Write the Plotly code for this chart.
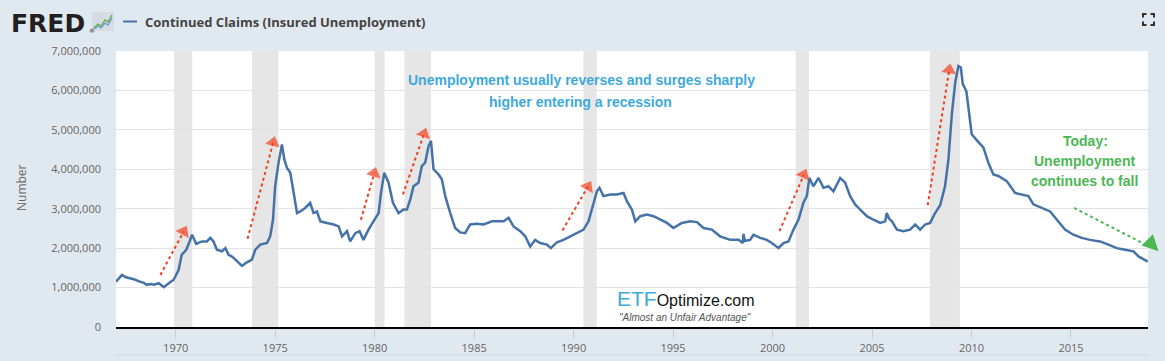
import plotly.graph_objects as go
import pandas as pd
import numpy as np

# ---------------- data ----------------
years = [
    1967.00, 1967.15, 1967.30, 1967.50, 1967.70, 1967.90, 1968.20, 1968.40, 1968.55, 1968.75,
    1968.90, 1969.15, 1969.40, 1969.55, 1969.65, 1969.90, 1970.15, 1970.30, 1970.53, 1970.70,
    1970.82, 1971.03, 1971.32, 1971.57, 1971.74, 1971.90, 1972.07, 1972.33, 1972.50, 1972.66,
    1972.85, 1973.00, 1973.33, 1973.58, 1973.83, 1974.00, 1974.25, 1974.59, 1974.75, 1974.89,
    1975.00, 1975.17, 1975.30, 1975.34, 1975.46, 1975.59, 1975.76, 1975.90, 1976.10, 1976.26,
    1976.51, 1976.76, 1976.93, 1977.10, 1977.27, 1977.60, 1977.94, 1978.19, 1978.36, 1978.61,
    1978.77, 1979.03, 1979.24, 1979.44, 1979.69, 1979.94, 1980.20, 1980.32, 1980.48, 1980.70,
    1980.92, 1981.20, 1981.45, 1981.62, 1981.80, 1981.95, 1982.20, 1982.37, 1982.54, 1982.71,
    1982.83, 1982.96, 1983.21, 1983.38, 1983.55, 1983.80, 1984.05, 1984.30, 1984.55, 1984.80,
    1985.14, 1985.47, 1985.90, 1986.22, 1986.48, 1986.73, 1986.98, 1987.32, 1987.57, 1987.82,
    1988.07, 1988.32, 1988.66, 1988.86, 1989.16, 1989.49, 1989.83, 1990.17, 1990.50, 1990.75,
    1990.97, 1991.17, 1991.30, 1991.50, 1991.84, 1992.17, 1992.51, 1992.68, 1992.93, 1993.10,
    1993.35, 1993.68, 1994.02, 1994.35, 1994.69, 1995.02, 1995.44, 1995.86, 1996.20, 1996.53,
    1996.95, 1997.36, 1997.87, 1998.29, 1998.50, 1998.54, 1998.60, 1998.87, 1999.04, 1999.38,
    1999.71, 1999.96, 2000.30, 2000.55, 2000.80, 2001.05, 2001.30, 2001.55, 2001.72, 2001.85,
    2002.05, 2002.31, 2002.56, 2002.81, 2003.06, 2003.40, 2003.65, 2003.90, 2004.15, 2004.40,
    2004.74, 2005.07, 2005.41, 2005.66, 2005.74, 2005.85, 2006.00, 2006.25, 2006.58, 2006.91,
    2007.17, 2007.42, 2007.67, 2007.92, 2008.17, 2008.42, 2008.67, 2008.84, 2009.01, 2009.18,
    2009.34, 2009.46, 2009.56, 2009.74, 2009.88, 2010.01, 2010.26, 2010.60, 2010.85, 2011.10,
    2011.35, 2011.52, 2011.77, 2012.19, 2012.53, 2012.86, 2013.11, 2013.53, 2013.95, 2014.29,
    2014.70, 2015.12, 2015.54, 2015.96, 2016.46, 2016.88, 2017.30, 2017.72, 2018.14, 2018.39,
    2018.64, 2018.86,
]
claims_mil = [
    1.15, 1.25, 1.32, 1.26, 1.24, 1.21, 1.15, 1.12, 1.07, 1.09,
    1.07, 1.11, 1.01, 1.06, 1.11, 1.20, 1.45, 1.83, 1.96, 2.17,
    2.34, 2.11, 2.17, 2.17, 2.26, 2.17, 1.96, 1.92, 2.00, 1.83,
    1.78, 1.71, 1.55, 1.64, 1.71, 1.96, 2.09, 2.13, 2.30, 2.72,
    3.57, 4.17, 4.50, 4.63, 4.25, 4.04, 3.91, 3.49, 2.89, 2.93,
    3.02, 3.15, 2.89, 2.93, 2.68, 2.64, 2.60, 2.55, 2.30, 2.43,
    2.17, 2.38, 2.43, 2.21, 2.47, 2.68, 2.89, 3.40, 3.91, 3.66,
    3.15, 2.89, 2.98, 2.98, 3.25, 3.57, 3.66, 4.08, 4.17, 4.59,
    4.72, 4.00, 3.87, 3.74, 3.32, 2.89, 2.51, 2.40, 2.38, 2.60,
    2.62, 2.60, 2.68, 2.68, 2.68, 2.77, 2.55, 2.43, 2.30, 2.04,
    2.21, 2.13, 2.09, 2.00, 2.15, 2.21, 2.30, 2.38, 2.47, 2.68,
    3.06, 3.44, 3.53, 3.32, 3.36, 3.36, 3.40, 3.19, 2.98, 2.68,
    2.81, 2.85, 2.81, 2.72, 2.64, 2.51, 2.64, 2.68, 2.66, 2.51,
    2.47, 2.30, 2.21, 2.21, 2.13, 2.36, 2.18, 2.21, 2.34, 2.26,
    2.21, 2.13, 2.00, 2.13, 2.17, 2.47, 2.72, 3.15, 3.32, 3.78,
    3.57, 3.78, 3.53, 3.57, 3.44, 3.78, 3.66, 3.32, 3.11, 2.98,
    2.81, 2.72, 2.64, 2.68, 2.89, 2.75, 2.68, 2.47, 2.43, 2.47,
    2.60, 2.47, 2.60, 2.64, 2.89, 3.08, 3.57, 4.25, 5.40, 6.20,
    6.62, 6.58, 6.16, 5.98, 5.35, 4.89, 4.74, 4.55, 4.16, 3.87,
    3.83, 3.78, 3.70, 3.40, 3.36, 3.32, 3.11, 3.02, 2.93, 2.72,
    2.47, 2.34, 2.26, 2.21, 2.17, 2.09, 2.00, 1.96, 1.92, 1.79,
    1.71, 1.66,
]

recession_start = ["1969-12-01", "1973-11-01", "1980-01-01", "1981-07-01",
                   "1990-07-01", "2001-03-01", "2007-12-01"]
recession_end = ["1970-11-01", "1975-03-01", "1980-07-01", "1982-11-01",
                 "1991-03-01", "2001-11-01", "2009-06-01"]

x_tick_labels = ["1970", "1975", "1980", "1985", "1990", "1995", "2000", "2005", "2010", "2015"]
y_tick_values = [0, 1000000, 2000000, 3000000, 4000000, 5000000, 6000000, 7000000]

# arrows: (tail year, tail value M, tip year, tip value M)
red_arrows = [
    (1969.23, 1.32, 1970.40, 2.42),
    (1973.61, 2.24, 1974.90, 4.68),
    (1979.31, 2.72, 1979.98, 3.90),
    (1981.42, 3.36, 1982.48, 4.90),
    (1989.44, 2.45, 1990.72, 3.56),
    (2000.35, 2.43, 2001.57, 3.86),
    (2007.80, 3.09, 2008.88, 6.52),
]
green_arrow = (2015.16, 3.02, 2019.40, 1.92)


def to_date(y):
    yr = int(np.floor(y))
    return pd.Timestamp(year=yr, month=1, day=1) + pd.Timedelta(days=(y - yr) * 365.25)


# ---------------- geometry helpers (pixel -> paper) ----------------
W, H = 1165, 361
L, R, T, B = 116, 1148, 51, 327


def pxx(x):
    return (x - L) / (R - L)


def pxy(y):
    return (B - y) / (B - T)


BLUE_LINE = "#4572A7"
RED = "#F2401F"
GREEN = "#4CB755"
TXT_BLUE = "#3DA9DC"

fig = go.Figure()

fig.add_trace(go.Scatter(
    x=[to_date(v) for v in years],
    y=[v * 1e6 for v in claims_mil],
    mode="lines",
    line=dict(color=BLUE_LINE, width=2.5),
    showlegend=False,
    hoverinfo="skip",
))


def add_arrow(a, color):
    x0, y0, x1, y1 = a
    fig.add_trace(go.Scatter(
        x=[to_date(x0), to_date(x1)],
        y=[y0 * 1e6, y1 * 1e6],
        mode="lines+markers",
        line=dict(color=color, width=2, dash="dot"),
        marker=dict(symbol=["circle", "triangle-up"], size=[0, 13], color=color,
                    angleref="previous", line=dict(width=0)),
        cliponaxis=False,
        showlegend=False,
        hoverinfo="skip",
    ))


for a in red_arrows:
    add_arrow(a, RED)

# green arrow: dotted line (clipped at plot edge) + arrowhead annotation that may overhang
gx0, gy0, gx1, gy1 = green_arrow
fig.add_trace(go.Scatter(
    x=[to_date(gx0), to_date(gx1)], y=[gy0 * 1e6, gy1 * 1e6],
    mode="lines", line=dict(color=GREEN, width=2, dash="dot"),
    showlegend=False, hoverinfo="skip",
))

shapes = []
for s, e in zip(recession_start, recession_end):
    shapes.append(dict(type="rect", xref="x", yref="paper", x0=s, x1=e, y0=0, y1=1,
                       fillcolor="#E6E6E6", line=dict(width=0), layer="between"))

# bottom thin line
shapes.append(dict(type="line", xref="paper", yref="paper", x0=0, x1=1,
                   y0=pxy(355), y1=pxy(355), line=dict(color="#CCD6EB", width=1)))
# legend line in header
shapes.append(dict(type="line", xref="paper", yref="paper", x0=pxx(123), x1=pxx(137),
                   y0=pxy(21.5), y1=pxy(21.5), line=dict(color=BLUE_LINE, width=2)))
# FRED graph icon
shapes.append(dict(type="rect", xref="paper", yref="paper", x0=pxx(92), x1=pxx(114),
                   y0=pxy(31), y1=pxy(12), fillcolor="#D5DCE4", line=dict(width=0)))
icon_g = [(94, 28), (98, 24), (101, 26), (105, 20), (108, 22), (112, 15)]
icon_b = [(94, 29), (98, 26), (101, 28), (105, 23), (108, 25), (112, 18)]
for pts, col in ((icon_g, "#5FAE3E"), (icon_b, "#6C9BD2")):
    path = "M " + " L ".join(f"{pxx(a)},{pxy(b)}" for a, b in pts)
    shapes.append(dict(type="path", xref="paper", yref="paper", path=path,
                       line=dict(color=col, width=1.3)))
# expand icon (four corners)
x0i, x1i, y0i, y1i, k = 1143, 1154, 14, 25, 3.5
corners = [
    [(x0i, y0i + k), (x0i, y0i), (x0i + k, y0i)],
    [(x1i - k, y0i), (x1i, y0i), (x1i, y0i + k)],
    [(x0i, y1i - k), (x0i, y1i), (x0i + k, y1i)],
    [(x1i - k, y1i), (x1i, y1i), (x1i, y1i - k)],
]
for pts in corners:
    path = "M " + " L ".join(f"{pxx(a)},{pxy(b)}" for a, b in pts)
    shapes.append(dict(type="path", xref="paper", yref="paper", path=path,
                       line=dict(color="#333333", width=2)))

annotations = []


def ann(text, x, y, size, color, family="Liberation Sans", xanchor="center",
        yanchor="middle", weight="normal", angle=0):
    annotations.append(dict(
        text=text, xref="paper", yref="paper", x=pxx(x), y=pxy(y),
        xanchor=xanchor, yanchor=yanchor, showarrow=False, textangle=angle,
        font=dict(family=family, size=size, color=color, weight=weight),
    ))


# header
ann("FRED", 9, 23, 25, "#231F20", family="DejaVu Sans", xanchor="left", weight="bold")
ann("®", 87, 30, 6, "#231F20", family="DejaVu Sans", xanchor="left")
ann("Continued Claims (Insured Unemployment)", 143, 22, 13, "#444444",
    family="Open Sans", xanchor="left", weight="bold")
# y title
ann("Number", 21, 188, 12, "#666666", family="Open Sans", angle=-90)
# blue commentary
ann("Unemployment usually reverses and surges sharply", 581.5, 80, 14, TXT_BLUE, weight="bold")
ann("higher entering a recession", 580, 101.5, 14, TXT_BLUE, weight="bold")
# green commentary
ann("Today:", 1085.5, 140.5, 14, GREEN, weight="bold")
ann("Unemployment", 1084, 160.5, 14, GREEN, weight="bold")
ann("continues to fall", 1084, 180.5, 14, GREEN, weight="bold")
# ETF logo
ann("<span style='color:#3DA9DC;font-size:21px'>ETF</span>"
    "<span style='color:#111111;font-size:16px'>Optimize.com</span>",
    615, 298, 16, "#111111", xanchor="left")
ann("<i>\"Almost an Unfair Advantage\"</i>", 684.5, 317, 10, "#555555")

# green arrowhead (overhangs the plot edge, as in the original)
annotations.append(dict(
    x=to_date(gx1), y=gy1 * 1e6, xref="x", yref="y",
    ax=to_date(gx1 - 0.55), ay=(gy1 + 0.28) * 1e6, axref="x", ayref="y",
    text="", showarrow=True, arrowhead=2, arrowsize=1.6, arrowwidth=2,
    arrowcolor=GREEN, standoff=0,
))

fig.update_layout(
    width=W, height=H,
    margin=dict(l=L, r=W - R, t=T, b=H - B, pad=0, autoexpand=False),
    paper_bgcolor="#E1E9F0",
    plot_bgcolor="#FFFFFF",
    showlegend=False,
    shapes=shapes,
    annotations=annotations,
    xaxis=dict(
        type="date", automargin=False,
        range=[to_date(1967.0), to_date(2018.87)],
        tickvals=[f"{t}-01-01" for t in x_tick_labels],
        ticktext=x_tick_labels,
        ticks="outside", ticklen=10, tickcolor="#C0D0E0", tickwidth=1,
        showgrid=False, zeroline=False,
        showline=True, linecolor="#000000", linewidth=2,
        tickfont=dict(family="Open Sans", size=11, color="#666666"),
    ),
    yaxis=dict(
        range=[0, 7000000], automargin=False,
        tickvals=y_tick_values,
        tickformat=",d",
        showgrid=True, gridcolor="#E3E3E3", gridwidth=1,
        zeroline=False, showline=False, ticks="",
        ticklabelstandoff=14,
        tickfont=dict(family="Open Sans", size=11, color="#666666"),
    ),
)

fig.write_html("out.html", config={"displayModeBar": False},
               post_script="document.body.style.margin='0';")
